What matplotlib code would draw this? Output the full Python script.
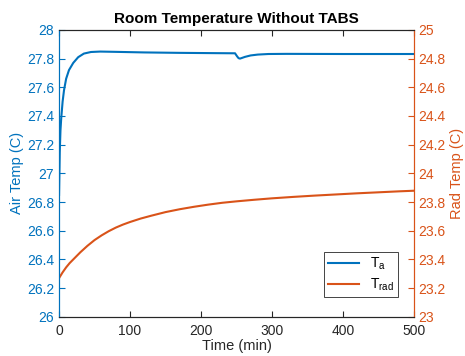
import numpy as np
import matplotlib
matplotlib.use("Agg")
from matplotlib import pyplot as plt

# air temperature (left axis)
t_air = [0, 1, 2, 3, 5, 7, 10, 14, 20, 27, 35, 45, 58, 80, 120, 170, 220,
         248, 251, 253, 255, 258, 262, 270, 280, 295, 320, 400, 500]
air_temp = [26.85, 27.15, 27.3, 27.38, 27.5, 27.58, 27.66, 27.72, 27.77, 27.81,
            27.835, 27.846, 27.849, 27.847, 27.843, 27.840, 27.838,
            27.837, 27.815, 27.803, 27.800, 27.805, 27.812, 27.822, 27.828,
            27.832, 27.833, 27.832, 27.832]

# radiant temperature (right axis)
t_rad = [0, 5, 10, 15, 20, 30, 40, 50, 60, 70, 80, 90, 100, 115, 130, 150,
         170, 190, 210, 230, 250, 275, 300, 330, 360, 390, 420, 450, 480, 500]
rad_temp = [23.27, 23.31, 23.345, 23.375, 23.40, 23.45, 23.495, 23.535, 23.568,
            23.597, 23.622, 23.643, 23.661, 23.685, 23.705, 23.73, 23.75, 23.767,
            23.782, 23.795, 23.805, 23.816, 23.826, 23.836, 23.845, 23.853,
            23.861, 23.868, 23.875, 23.879]

blue = '#0072BD'
orange = '#D95319'
gray = '#262626'

plt.rcParams['font.family'] = ['Liberation Sans', 'DejaVu Sans']
plt.rcParams['mathtext.fontset'] = 'custom'
plt.rcParams['mathtext.rm'] = 'Liberation Sans'
plt.rcParams['mathtext.it'] = 'Liberation Sans'

fig = plt.figure(figsize=(4.65, 3.56), dpi=100)
ax = fig.add_axes([0.127, 0.110, 0.763, 0.806])
ax2 = ax.twinx()

l1, = ax.plot(t_air, air_temp, color=blue, lw=1.5)
l2, = ax2.plot(t_rad, rad_temp, color=orange, lw=1.5)

ax.set_xlim(0, 500)
ax.set_ylim(26, 28)
ax2.set_ylim(23, 25)
ax.set_xticks(np.arange(0, 501, 100))
ax.set_yticks(np.arange(26, 28.01, 0.2))
ax2.set_yticks(np.arange(23, 25.01, 0.2))
ax.set_yticklabels(['%g' % round(v, 1) for v in np.arange(26, 28.01, 0.2)])
ax2.set_yticklabels(['%g' % round(v, 1) for v in np.arange(23, 25.01, 0.2)])

ax.tick_params(axis='x', direction='in', colors=gray, labelsize=10, length=4,
               top=True, pad=5)
ax.tick_params(axis='y', direction='in', colors=blue, labelsize=10, length=4)
ax2.tick_params(axis='y', direction='in', colors=orange, labelsize=10, length=4)

for a in (ax, ax2):
    a.spines['top'].set_color(gray)
    a.spines['bottom'].set_color(gray)
    a.spines['left'].set_color(blue)
    a.spines['right'].set_color(orange)
    for s in a.spines.values():
        s.set_linewidth(0.8)

ax.set_xlabel('Time (min)', color=gray, fontsize=10.5, labelpad=1)
ax.set_ylabel('Air Temp (C)', color=blue, fontsize=10.5, labelpad=2)
ax2.set_ylabel('Rad Temp (C)', color=orange, fontsize=10.5, labelpad=3)
ax.set_title('Room Temperature Without TABS', fontsize=11, fontweight='bold',
             color='black', pad=5)

leg = ax2.legend([l1, l2], ['$\\mathregular{T_a}$', '$\\mathregular{T_{rad}}$'],
                 loc='lower right', bbox_to_anchor=(0.975, 0.045), fontsize=10,
                 fancybox=False, framealpha=1, edgecolor=gray,
                 handlelength=2.2, borderpad=0.3, labelspacing=0.3)
leg.get_frame().set_linewidth(0.6)

fig.savefig('out.png', dpi=100)
